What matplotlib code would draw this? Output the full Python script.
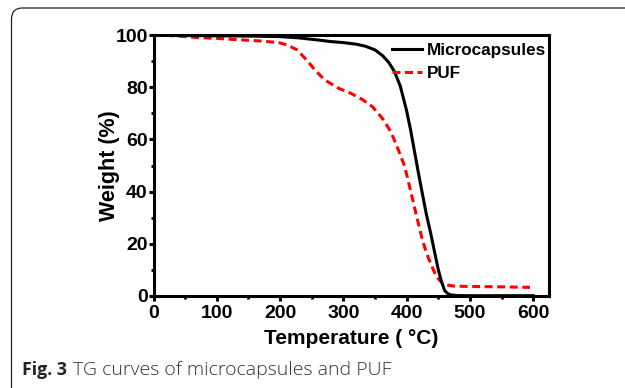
import numpy as np
import matplotlib
matplotlib.use("Agg")
import matplotlib.pyplot as plt
import matplotlib.patches as patches
from matplotlib.ticker import MultipleLocator

# --- data ---

micro_t = [20, 60, 100, 150, 200, 230, 260, 280, 300, 320, 335, 350, 362, 372, 381,
           390, 400, 406, 412, 418, 425, 431, 438, 444, 450, 455, 460, 465, 470, 480, 500, 550, 600]
micro_w = [100, 99.9, 99.8, 99.7, 99.5, 99.0, 98.2, 97.6, 97.2, 96.6, 95.8, 94.4, 92.2, 89.5, 86,
           80.5, 71, 64, 56, 48, 39, 31.5, 24, 17, 10, 5.5, 2, 0.8, 0.3, 0.05, 0, 0, 0]

puf_t = [20, 50, 72, 100, 135, 170, 198, 211, 227, 242, 255, 271, 293, 312, 331, 346, 362,
         375, 387, 397, 406, 416, 425, 432, 438, 447, 457, 466, 475, 490, 513, 550, 595]
puf_w = [100, 99.5, 99.1, 98.8, 98.3, 97.8, 97.2, 96.3, 94.4, 90.5, 86.7, 82.8, 79.6, 77.7, 75.2,
         72.6, 68, 63, 56, 49.6, 40.6, 30.3, 21.4, 16, 12.4, 7.3, 4.7, 4.0, 3.7, 3.6, 3.5, 3.4, 3.2]

xticks = [0, 100, 200, 300, 400, 500, 600]
yticks = [0, 20, 40, 60, 80, 100]

# --- plot ---

plt.rcParams['font.family'] = ['Liberation Sans', 'DejaVu Sans']
plt.rcParams['font.weight'] = 'bold'

fig = plt.figure(figsize=(6.25, 3.88), dpi=100)
ax = fig.add_axes([153.5 / 625, 1 - 295.7 / 388, (549 - 153.5) / 625, (295.7 - 35.3) / 388])

ax.plot(micro_t, micro_w, color='black', lw=2.2, label='Microcapsules', zorder=3)
ax.plot(puf_t, puf_w, color='#ff0000', lw=2.2, ls=(0, (2.6, 1.5)), label='PUF', zorder=2)

ax.set_xlim(0, 625)
ax.set_ylim(0, 100)
ax.set_xticks(xticks)
ax.set_yticks(yticks)
ax.xaxis.set_minor_locator(MultipleLocator(50))
ax.yaxis.set_minor_locator(MultipleLocator(10))

for s in ax.spines.values():
    s.set_linewidth(2.2)
ax.tick_params(which='major', direction='out', length=3.6, width=2.2, labelsize=14)
ax.tick_params(which='minor', direction='out', length=2.2, width=2.0)
ax.tick_params(axis='x', which='major', pad=3)
ax.tick_params(axis='y', which='major', pad=0.5)

ax.set_xlabel('Temperature ( °C)', fontsize=15, fontweight='bold', labelpad=5)
ax.set_ylabel('Weight (%)', fontsize=15.5, fontweight='bold', labelpad=-3)

ax.legend(loc='upper right', frameon=False, fontsize=12.3, handlelength=1.75,
          handletextpad=0.3, borderaxespad=0.0, labelspacing=0.45,
          borderpad=0.15, bbox_to_anchor=(1.0, 0.98))

# --- panel frame and caption ---

frame = patches.FancyBboxPatch((11.5, -30), 700, 410, boxstyle="round,pad=0,rounding_size=11",
                               transform=None, fill=False, edgecolor='#222222', lw=0.9)
fig.add_artist(frame)

fig.text(22 / 625, 1 - 375 / 388, 'Fig. 3', fontsize=12.8, fontweight='bold',
         family=['Open Sans', 'DejaVu Sans'], color='#222222', va='baseline')
fig.text(73 / 625, 1 - 375 / 388, 'TG curves of microcapsules and PUF', fontsize=14,
         fontweight='light', family=['Open Sans', 'DejaVu Sans'], color='#333333', va='baseline')

plt.savefig('out.png', dpi=100)
plt.close()
